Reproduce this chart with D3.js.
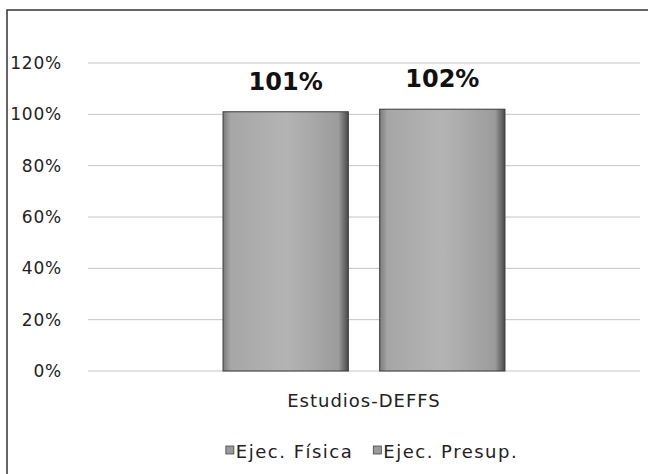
<!DOCTYPE html>
<html>
<head>
<meta charset="utf-8">
<script src="https://cdn.jsdelivr.net/npm/d3@7"></script>
<style>
  body { margin: 0; background: #fff; }
  svg { display: block; font-family: "DejaVu Sans", sans-serif; }
</style>
</head>
<body>
<svg id="chart"></svg>
<script>
const categories = ["Estudios-DEFFS"];
const seriesNames = ["Ejec. Física", "Ejec. Presup."];
const seriesValues = [101, 102];
const tickValues = [0, 20, 40, 60, 80, 100, 120];

const W = 648, H = 474;
const margin = { top: 63, right: 8, bottom: 103, left: 88 };
const width = W - margin.left - margin.right;
const height = H - margin.top - margin.bottom;

const root = d3.select("#chart").attr("width", W).attr("height", H);

// chart frame (only left and top edges are in view on the scan)
root.append("rect")
  .attr("x", 7).attr("y", 10)
  .attr("width", W + 20).attr("height", H + 20)
  .attr("fill", "#fff")
  .attr("stroke", "#333").attr("stroke-width", 1.5);

const defs = root.append("defs");
const grad = defs.append("linearGradient").attr("id", "barGrad")
  .attr("x1", "0%").attr("x2", "100%").attr("y1", "0%").attr("y2", "0%");
[["0%", "#7a7a7a"], ["6%", "#a6a6a6"], ["50%", "#b4b4b4"], ["92%", "#9c9c9c"], ["100%", "#4a4a4a"]]
  .forEach(([o, c]) => grad.append("stop").attr("offset", o).attr("stop-color", c));

const svg = root.append("g")
  .attr("transform", `translate(${margin.left},${margin.top})`);

const x0 = d3.scaleBand()
  .domain(categories)
  .range([0, width])
  .paddingInner(0)
  .paddingOuter(0.479);

const x1 = d3.scaleBand()
  .domain(seriesNames)
  .range([0, x0.bandwidth()])
  .paddingInner(0.2)
  .paddingOuter(0);

const y = d3.scaleLinear().domain([0, 120]).range([height, 0]);

// gridlines
svg.append("g")
  .selectAll("line")
  .data(tickValues)
  .enter()
  .append("line")
  .attr("x1", 0).attr("x2", width)
  .attr("y1", d => y(d)).attr("y2", d => y(d))
  .attr("stroke", "#c4c4c4")
  .attr("stroke-width", 1);

// y axis labels
const yAxis = d3.axisLeft(y).tickValues(tickValues).tickSize(0).tickPadding(26)
  .tickFormat(d => d + "%");
const yg = svg.append("g").call(yAxis);
yg.select(".domain").remove();
yg.selectAll("text").attr("font-size", 17).attr("letter-spacing", 0.8).attr("fill", "#222")
  .attr("font-family", "DejaVu Sans, sans-serif");

const data = seriesNames.map((s, i) => ({ series: s, value: seriesValues[i] }));

const g = svg.append("g").attr("transform", `translate(${x0(categories[0])},0)`);

g.selectAll(".bar")
  .data(data)
  .enter()
  .append("rect")
  .attr("class", "bar")
  .attr("x", d => x1(d.series))
  .attr("y", d => y(d.value))
  .attr("width", x1.bandwidth())
  .attr("height", d => height - y(d.value))
  .attr("fill", "url(#barGrad)")
  .attr("stroke", "#3a3a3a")
  .attr("stroke-width", 1);

g.selectAll(".label")
  .data(data)
  .enter()
  .append("text")
  .attr("class", "label")
  .attr("x", d => x1(d.series) + x1.bandwidth() / 2)
  .attr("y", d => y(d.value) - 22)
  .attr("text-anchor", "middle")
  .attr("font-size", 24)
  .attr("font-weight", "bold")
  .attr("fill", "#111")
  .text(d => d.value + "%");

// category label
svg.append("text")
  .attr("x", x0(categories[0]) + x0.bandwidth() / 2)
  .attr("y", height + 36)
  .attr("text-anchor", "middle")
  .attr("font-size", 18)
  .attr("letter-spacing", 1)
  .attr("fill", "#222")
  .text(categories[0]);

// legend
const legend = svg.append("g").attr("transform", `translate(0,${height + 87})`);
const items = legend.selectAll("g")
  .data(seriesNames)
  .enter()
  .append("g");
items.append("rect")
  .attr("y", -12).attr("width", 8).attr("height", 8)
  .attr("fill", "#9a9a9a").attr("stroke", "#444").attr("stroke-width", 0.8);
items.append("text")
  .attr("x", 10)
  .attr("font-size", 18)
  .attr("letter-spacing", 1.5)
  .attr("fill", "#222")
  .text(d => d);
let widths = [];
items.each(function () { widths.push(this.getBBox().width); });
const gap = 20;
const total = d3.sum(widths) + gap * (widths.length - 1);
let cx = x0(categories[0]) + x0.bandwidth() / 2 + 8 - total / 2;
items.attr("transform", (d, i) => {
  const t = `translate(${cx},0)`;
  cx += widths[i] + gap;
  return t;
});
</script>
</body>
</html>
